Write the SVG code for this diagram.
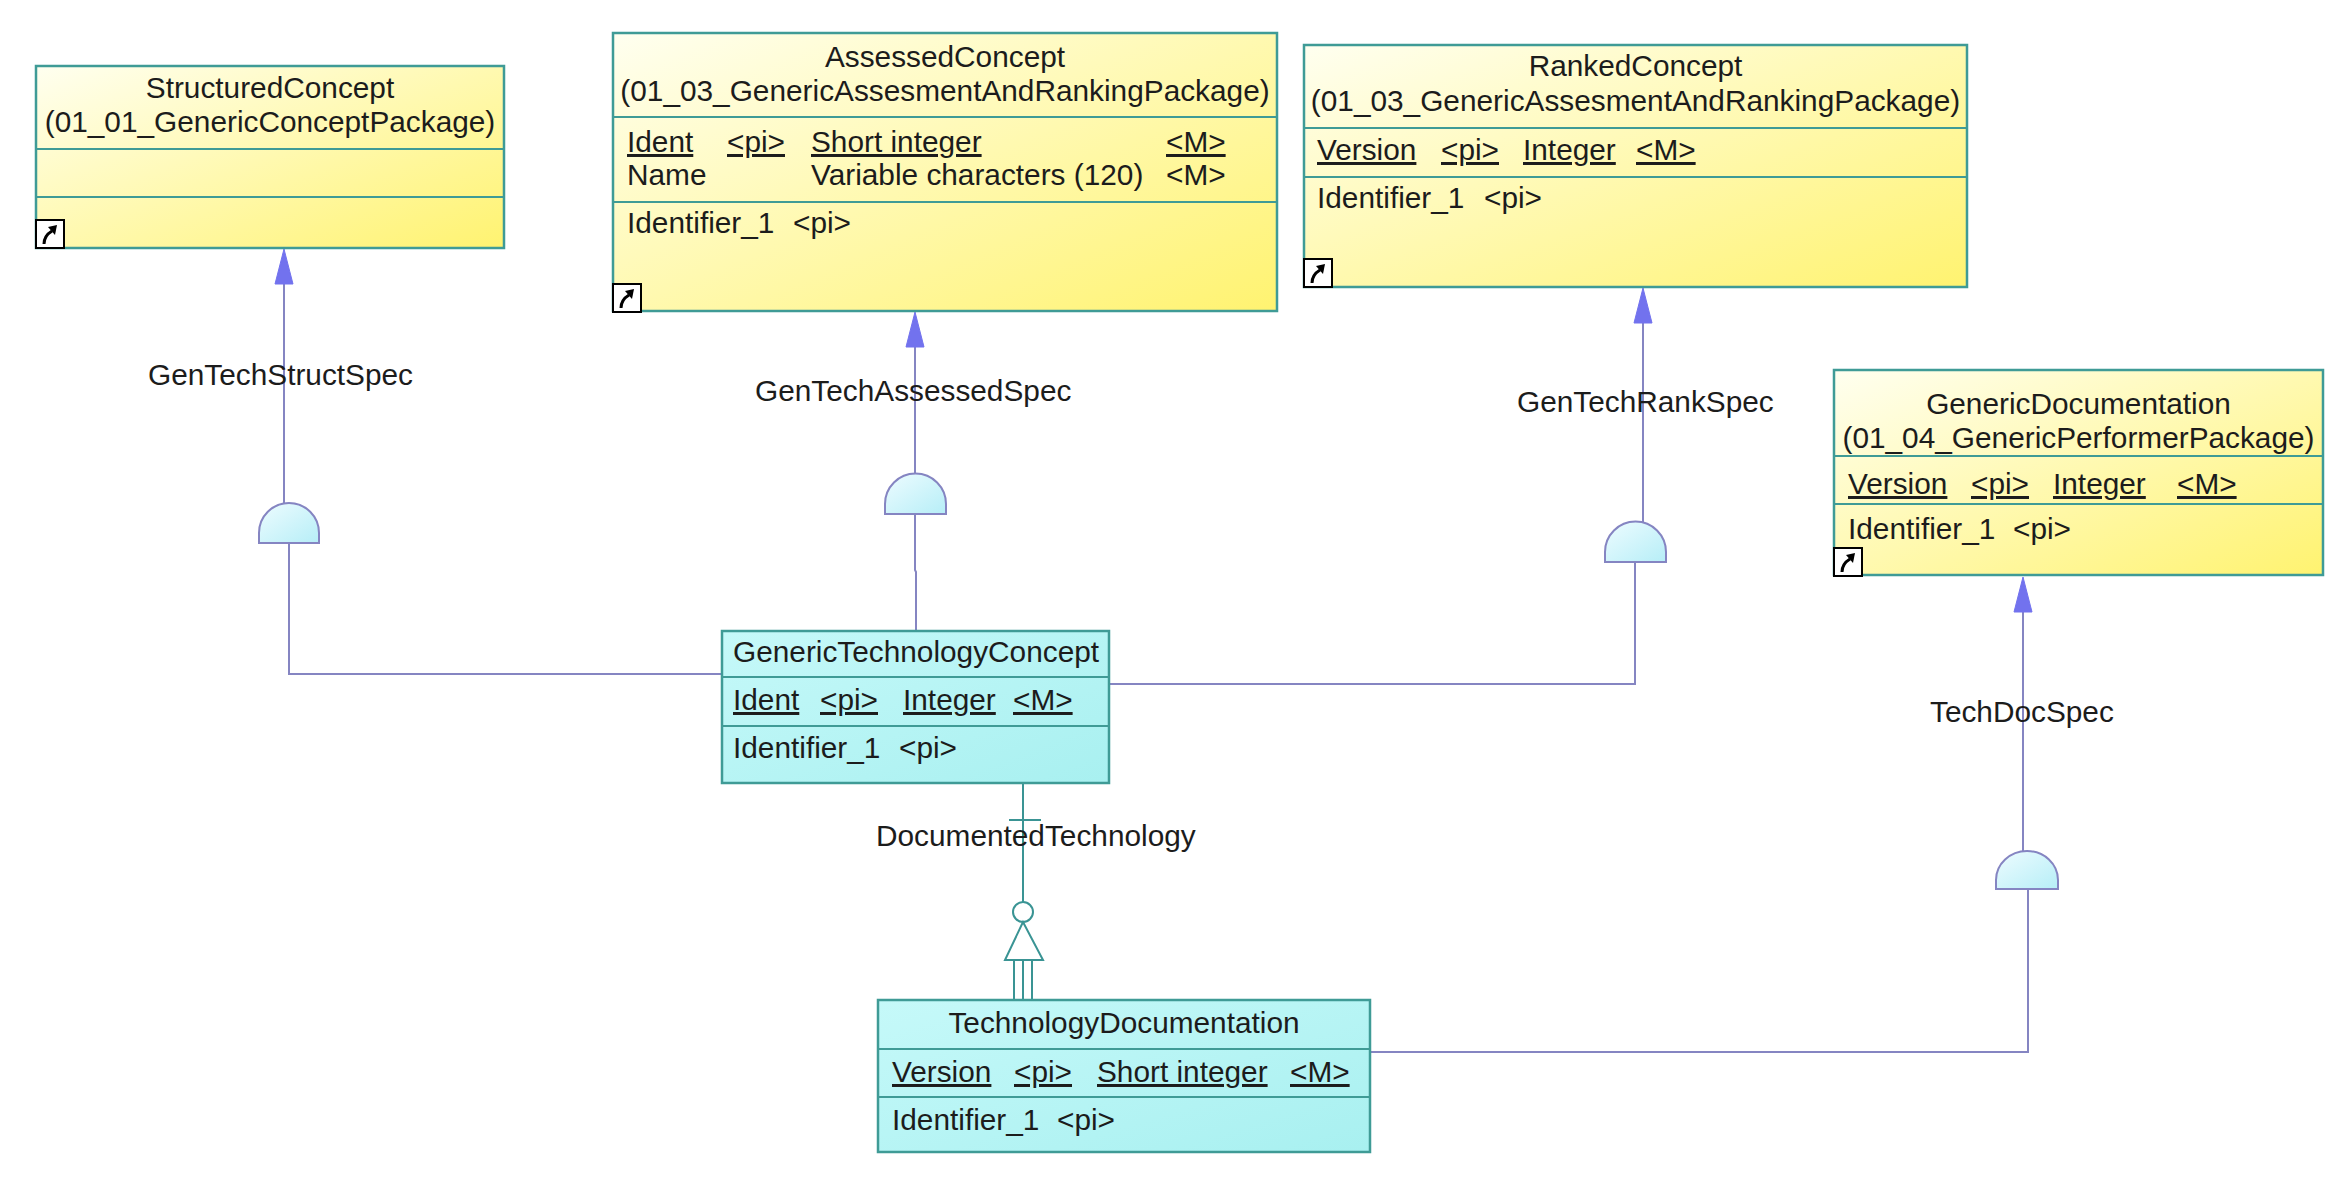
<svg xmlns="http://www.w3.org/2000/svg" width="2350" height="1193" viewBox="0 0 2350 1193">
<defs>
<linearGradient id="gy" x1="0" y1="0" x2="1" y2="1">
<stop offset="0" stop-color="#fffff0"/>
<stop offset="1" stop-color="#fff370"/>
</linearGradient>
<linearGradient id="gc" x1="0" y1="0" x2="1" y2="1">
<stop offset="0" stop-color="#c6f9f9"/>
<stop offset="1" stop-color="#a8f0f0"/>
</linearGradient>
<linearGradient id="ga" x1="0" y1="0" x2="1" y2="1">
<stop offset="0" stop-color="#eefcff"/>
<stop offset="1" stop-color="#b6eef7"/>
</linearGradient>
<g id="icon">
<rect x="0" y="0" width="28" height="28" fill="#ffffff" stroke="#000000" stroke-width="2"/>
<path d="M8,24 C8,18 11,14 16,11" fill="none" stroke="#000000" stroke-width="3"/>
<polygon points="21,5 12,7 19,15" fill="#000000"/>
</g>
</defs>
<style>
text{font-family:"Liberation Sans",Arial,sans-serif;font-size:29.8px;fill:#1c1c1c}
.c{text-anchor:middle}
.u{text-decoration:underline}
.by{fill:url(#gy);stroke:#3f9b96;stroke-width:2.5}
.bc{fill:url(#gc);stroke:#3f9b96;stroke-width:2.5}
.dv{stroke:#3f9b96;stroke-width:2}
.ln{fill:none;stroke:#8585c2;stroke-width:2}
.tl{fill:none;stroke:#3a9494;stroke-width:2}
.arch{fill:url(#ga);stroke:#8585c2;stroke-width:2}
.ah{fill:#7272ee;stroke:#7272ee;stroke-width:1}
</style>
<rect x="0" y="0" width="2350" height="1193" fill="#ffffff"/>

<g id="connectors">
<!-- GenTechStructSpec -->
<line class="ln" x1="284" y1="270" x2="284" y2="503"/>
<polyline class="ln" points="289,543 289,674 722,674"/>
<path class="arch" d="M259,543 L259,533 A30,30 0 0 1 319,533 L319,543 Z"/>
<polygon class="ah" points="284,249 275,284 293,284"/>
<text x="148" y="385">GenTechStructSpec</text>
<!-- GenTechAssessedSpec -->
<line class="ln" x1="915" y1="330" x2="915" y2="473"/>
<polyline class="ln" points="915,514 915,570 916,572 916,631"/>
<path class="arch" d="M885,514 L885,504 A30.5,30.5 0 0 1 946,504 L946,514 Z"/>
<polygon class="ah" points="915,312 906,347 924,347"/>
<text x="755" y="401">GenTechAssessedSpec</text>
<!-- GenTechRankSpec -->
<line class="ln" x1="1643" y1="305" x2="1643" y2="522"/>
<polyline class="ln" points="1635,562 1635,684 1109,684"/>
<path class="arch" d="M1605,562 L1605,552 A30.5,30.5 0 0 1 1666,552 L1666,562 Z"/>
<polygon class="ah" points="1643,288 1634,323 1652,323"/>
<text x="1517" y="412">GenTechRankSpec</text>
<!-- TechDocSpec -->
<line class="ln" x1="2023" y1="595" x2="2023" y2="853"/>
<polyline class="ln" points="2028,889 2028,1052 1370,1052"/>
<path class="arch" d="M1996,889 L1996,880 A31,29 0 0 1 2058,880 L2058,889 Z"/>
<polygon class="ah" points="2023,577 2014,612 2032,612"/>
<text x="1930" y="722">TechDocSpec</text>
<!-- DocumentedTechnology -->
<line class="tl" x1="1023" y1="783" x2="1023" y2="902"/>
<line class="tl" x1="1009" y1="820" x2="1041" y2="820"/>
<circle cx="1023" cy="912" r="10" fill="#ffffff" stroke="#3a9494" stroke-width="2"/>
<polygon points="1023,922 1005,960 1043,960" fill="#ffffff" stroke="#3a9494" stroke-width="2"/>
<line class="tl" x1="1014" y1="960" x2="1014" y2="1000"/>
<line class="tl" x1="1023" y1="960" x2="1023" y2="1000"/>
<line class="tl" x1="1032" y1="960" x2="1032" y2="1000"/>
<text x="876" y="846">DocumentedTechnology</text>
</g>

<g id="StructuredConcept">
<rect class="by" x="36" y="66" width="468" height="182"/>
<line class="dv" x1="36" y1="149" x2="504" y2="149"/>
<line class="dv" x1="36" y1="197" x2="504" y2="197"/>
<text class="c" x="270" y="98">StructuredConcept</text>
<text class="c" x="270" y="132">(01_01_GenericConceptPackage)</text>
<use href="#icon" x="36" y="220"/>
</g>

<g id="AssessedConcept">
<rect class="by" x="613" y="33" width="664" height="278"/>
<line class="dv" x1="613" y1="117" x2="1277" y2="117"/>
<line class="dv" x1="613" y1="202" x2="1277" y2="202"/>
<text class="c" x="945" y="67">AssessedConcept</text>
<text class="c" x="945" y="101">(01_03_GenericAssesmentAndRankingPackage)</text>
<text class="u" x="627" y="152">Ident</text>
<text class="u" x="727" y="152">&lt;pi&gt;</text>
<text class="u" x="811" y="152">Short integer</text>
<text class="u" x="1166" y="152">&lt;M&gt;</text>
<text x="627" y="185">Name</text>
<text x="811" y="185">Variable characters (120)</text>
<text x="1166" y="185">&lt;M&gt;</text>
<text x="627" y="233">Identifier_1</text>
<text x="793" y="233">&lt;pi&gt;</text>
<use href="#icon" x="613" y="284"/>
</g>

<g id="RankedConcept">
<rect class="by" x="1304" y="45" width="663" height="242"/>
<line class="dv" x1="1304" y1="128" x2="1967" y2="128"/>
<line class="dv" x1="1304" y1="177" x2="1967" y2="177"/>
<text class="c" x="1635.5" y="76">RankedConcept</text>
<text class="c" x="1635.5" y="111">(01_03_GenericAssesmentAndRankingPackage)</text>
<text class="u" x="1317" y="160">Version</text>
<text class="u" x="1441" y="160">&lt;pi&gt;</text>
<text class="u" x="1523" y="160">Integer</text>
<text class="u" x="1636" y="160">&lt;M&gt;</text>
<text x="1317" y="208">Identifier_1</text>
<text x="1484" y="208">&lt;pi&gt;</text>
<use href="#icon" x="1304" y="259"/>
</g>

<g id="GenericDocumentation">
<rect class="by" x="1834" y="370" width="489" height="205"/>
<line class="dv" x1="1834" y1="456" x2="2323" y2="456"/>
<line class="dv" x1="1834" y1="504" x2="2323" y2="504"/>
<text class="c" x="2078.5" y="414">GenericDocumentation</text>
<text class="c" x="2078.5" y="448">(01_04_GenericPerformerPackage)</text>
<text class="u" x="1848" y="494">Version</text>
<text class="u" x="1971" y="494">&lt;pi&gt;</text>
<text class="u" x="2053" y="494">Integer</text>
<text class="u" x="2177" y="494">&lt;M&gt;</text>
<text x="1848" y="539">Identifier_1</text>
<text x="2013" y="539">&lt;pi&gt;</text>
<use href="#icon" x="1834" y="548"/>
</g>

<g id="GenericTechnologyConcept">
<rect class="bc" x="722" y="631" width="387" height="152"/>
<line class="dv" x1="722" y1="677" x2="1109" y2="677"/>
<line class="dv" x1="722" y1="726" x2="1109" y2="726"/>
<text x="733" y="662">GenericTechnologyConcept</text>
<text class="u" x="733" y="710">Ident</text>
<text class="u" x="820" y="710">&lt;pi&gt;</text>
<text class="u" x="903" y="710">Integer</text>
<text class="u" x="1013" y="710">&lt;M&gt;</text>
<text x="733" y="758">Identifier_1</text>
<text x="899" y="758">&lt;pi&gt;</text>
</g>

<g id="TechnologyDocumentation">
<rect class="bc" x="878" y="1000" width="492" height="152"/>
<line class="dv" x1="878" y1="1049" x2="1370" y2="1049"/>
<line class="dv" x1="878" y1="1097" x2="1370" y2="1097"/>
<text class="c" x="1124" y="1033">TechnologyDocumentation</text>
<text class="u" x="892" y="1082">Version</text>
<text class="u" x="1014" y="1082">&lt;pi&gt;</text>
<text class="u" x="1097" y="1082">Short integer</text>
<text class="u" x="1290" y="1082">&lt;M&gt;</text>
<text x="892" y="1130">Identifier_1</text>
<text x="1057" y="1130">&lt;pi&gt;</text>
</g>
</svg>
